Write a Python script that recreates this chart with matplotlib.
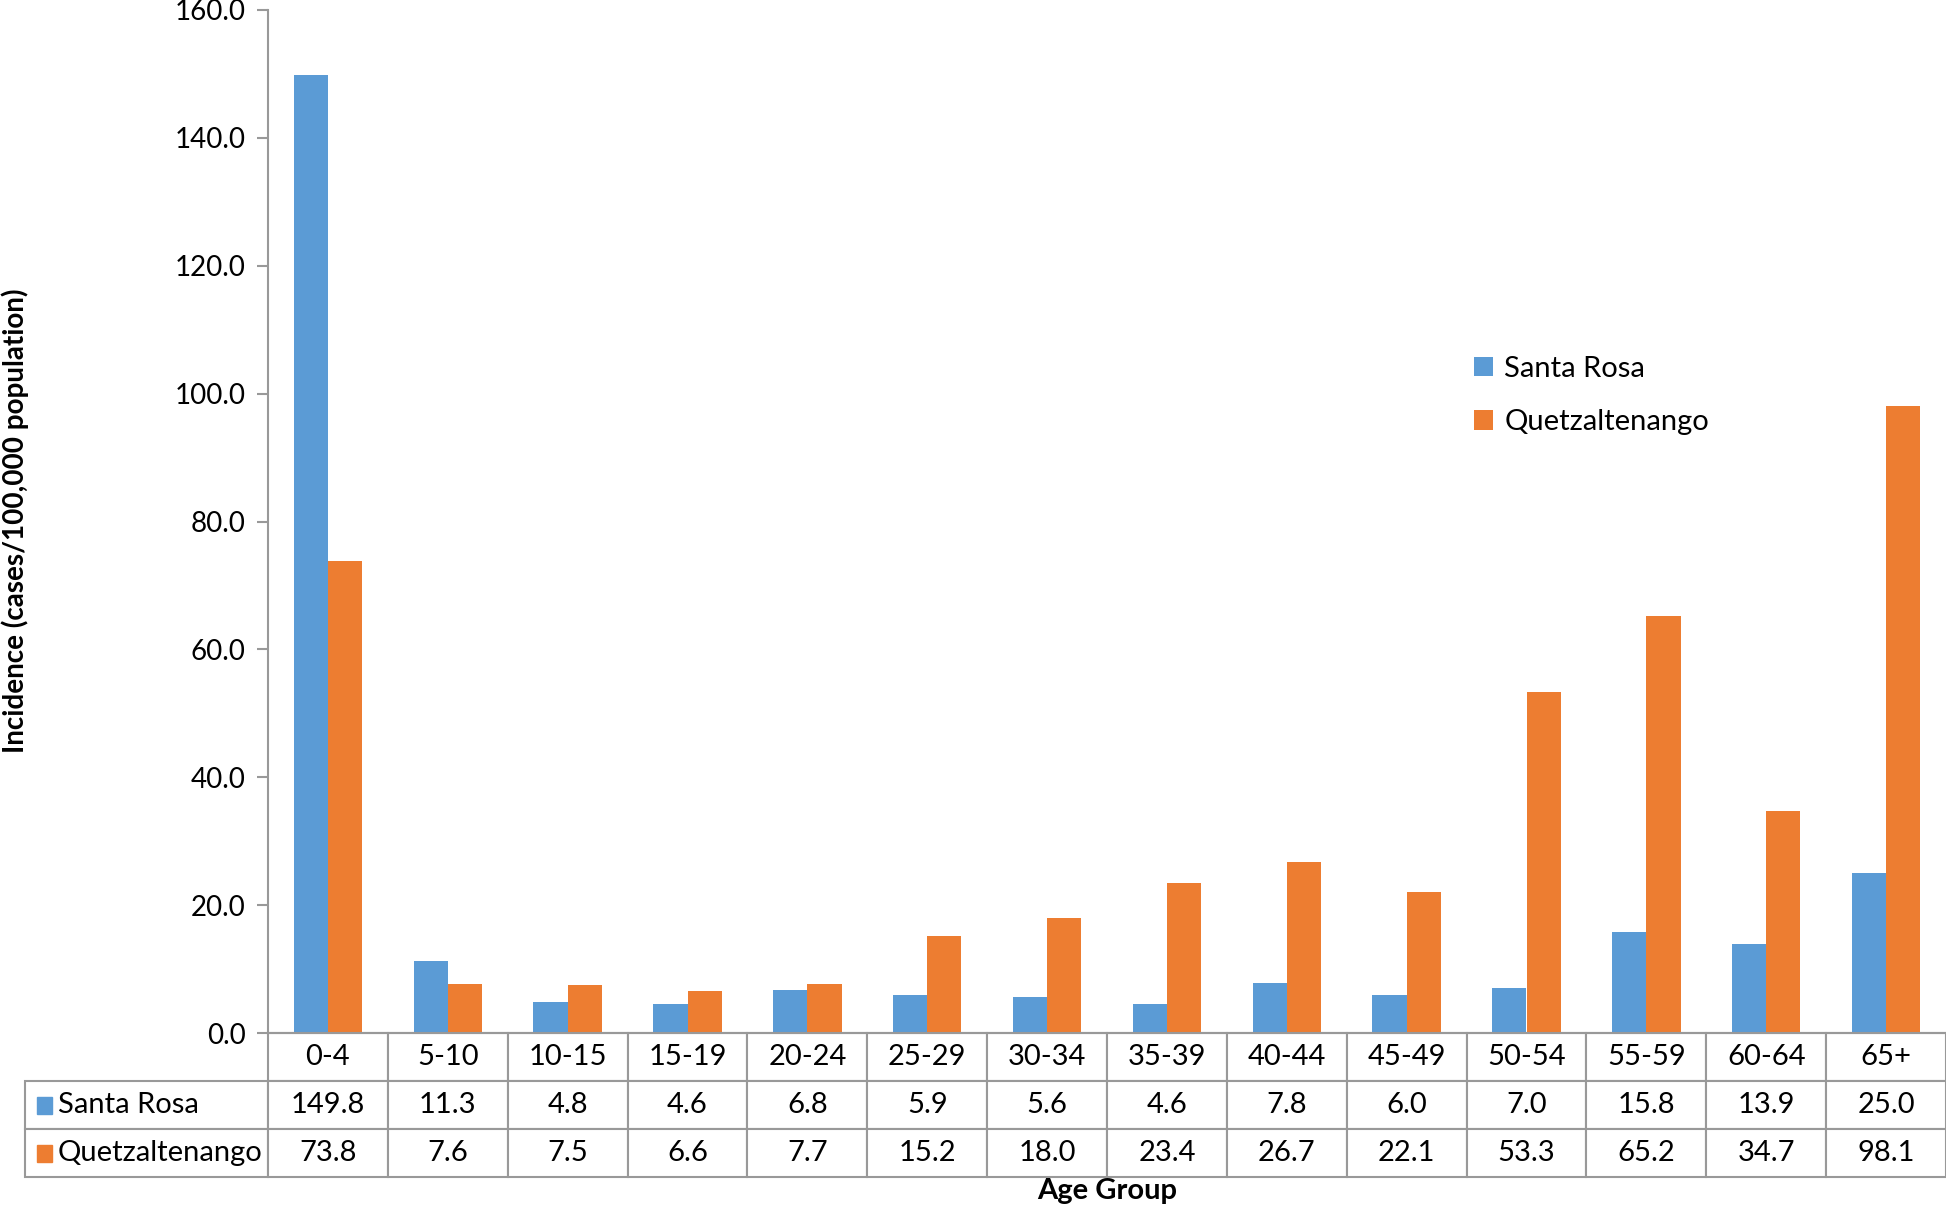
import matplotlib
matplotlib.use("Agg")
import matplotlib.pyplot as plt
from matplotlib.table import Table
from matplotlib.patches import Rectangle
import numpy as np

plt.rcParams["font.family"] = ["Lato", "DejaVu Sans"]

# data
age_groups = ["0-4", "5-10", "10-15", "15-19", "20-24", "25-29", "30-34",
              "35-39", "40-44", "45-49", "50-54", "55-59", "60-64", "65+"]
santa_rosa = [149.8, 11.3, 4.8, 4.6, 6.8, 5.9, 5.6, 4.6, 7.8, 6.0, 7.0, 15.8, 13.9, 25.0]
quetzaltenango = [73.8, 7.6, 7.5, 6.6, 7.7, 15.2, 18.0, 23.4, 26.7, 22.1, 53.3, 65.2, 34.7, 98.1]
series_names = ["Santa Rosa", "Quetzaltenango"]

BLUE = "#5B9BD5"
ORANGE = "#ED7D31"
GRID = "#999999"

W, H = 1946, 1205
fig = plt.figure(figsize=(W / 100, H / 100), dpi=100)
ax_l, ax_r, ax_t, ax_b = 268, 1946, 10, 1033
ax = fig.add_axes([ax_l / W, 1 - ax_b / H, (ax_r - ax_l) / W, (ax_b - ax_t) / H])

x = np.arange(len(age_groups))
bw = 0.285
b1 = ax.bar(x - bw / 2, santa_rosa, bw, color=BLUE, label=series_names[0])
b2 = ax.bar(x + bw / 2, quetzaltenango, bw, color=ORANGE, label=series_names[1])

ax.set_xlim(-0.5, len(age_groups) - 0.5)
ax.set_ylim(0, 160)
ax.set_yticks(np.arange(0, 161, 20))
ax.set_yticklabels([f"{v:.1f}" for v in np.arange(0, 161, 20)], fontsize=20)
ax.set_xticks([])
ax.tick_params(axis="y", length=8, color=GRID, width=1.5, pad=8)
for s in ["top", "right"]:
    ax.spines[s].set_visible(False)
for s in ["left", "bottom"]:
    ax.spines[s].set_color(GRID)
    ax.spines[s].set_linewidth(1.5)

fig.text(15 / W, 1 - 521 / H, "Incidence (cases/100,000 population)", fontsize=20,
         fontweight="bold", rotation=90, ha="center", va="center")

# data table below the axis
ax_w = ax_r - ax_l
ax_h = ax_b - ax_t
tb_l, tb_t, tb_b = 25, 1033, 1177
tbl = Table(ax, bbox=[-(ax_l - tb_l) / ax_w, -(tb_b - tb_t) / ax_h,
                      (ax_r - tb_l) / ax_w, (tb_b - tb_t) / ax_h])
lab_w = ax_l - tb_l
col_w = ax_w / len(age_groups)
rows = [age_groups,
        [f"{v:.1f}" for v in santa_rosa],
        [f"{v:.1f}" for v in quetzaltenango]]
for r, vals in enumerate(rows):
    c0 = tbl.add_cell(r, 0, width=lab_w, height=1, text="", loc="left",
                      edgecolor=GRID)
    c0.set_linewidth(1.5)
    if r == 0:
        c0.visible_edges = ""
    for c, v in enumerate(vals):
        cell = tbl.add_cell(r, c + 1, width=col_w, height=1, text=v, loc="center",
                            edgecolor=GRID)
        cell.set_linewidth(1.5)
tbl.auto_set_font_size(False)
tbl.set_fontsize(21)
ax.add_table(tbl)

# row labels with colour keys
for name, col, yc in [(series_names[0], BLUE, 1105), (series_names[1], ORANGE, 1153)]:
    fig.add_artist(Rectangle((37 / W, 1 - (yc + 9) / H), 15 / W, 17 / H,
                             transform=fig.transFigure, color=col))
    fig.text(58 / W, 1 - yc / H, name, fontsize=21, va="center", ha="left")

fig.text(1107 / W, 1 - 1191 / H, "Age Group", fontsize=21, fontweight="bold",
         ha="center", va="center")

ax.legend(handles=[b1, b2], loc="upper left", bbox_to_anchor=(1459 / W, 1 - 341 / H),
          bbox_transform=fig.transFigure, frameon=False, fontsize=21,
          handlelength=0.65, handleheight=0.65, handletextpad=0.4,
          labelspacing=0.95, borderpad=0)

fig.savefig("out.png", dpi=100)
